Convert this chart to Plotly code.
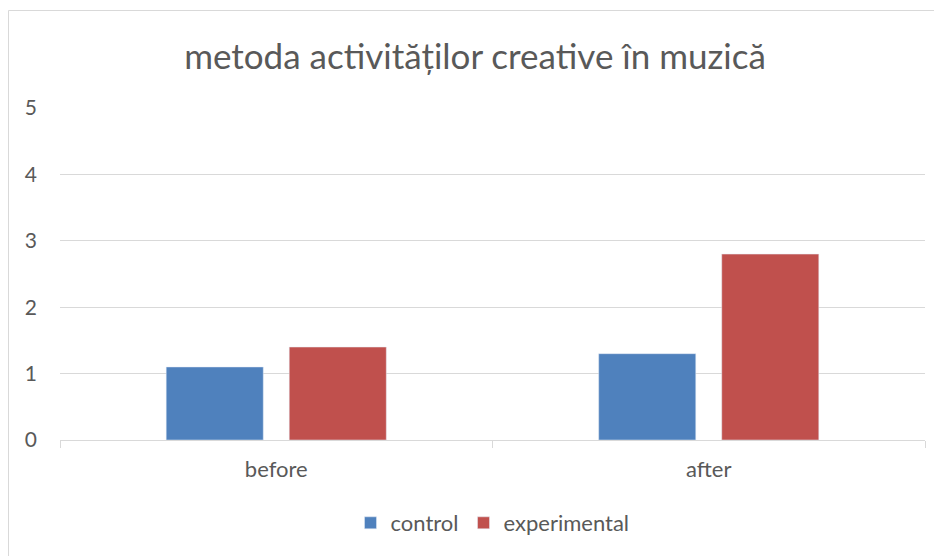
import plotly.graph_objects as go

categories = ["before", "after"]
control = [1.1, 1.3]
experimental = [1.4, 2.8]
y_ticks = [0, 1, 2, 3, 4, 5]

FONT = "Lato"
TXT = "#595959"

W, H = 934, 548
L, R, T, B = 52, 17, 100, 116
PH = H - T - B  # 332

fig = go.Figure()
fig.add_trace(go.Bar(name="control", x=categories, y=control, marker_color="#4F81BD"))
fig.add_trace(go.Bar(name="experimental", x=categories, y=experimental, marker_color="#C0504D"))

fig.update_layout(
    width=W, height=H,
    margin=dict(l=L, r=R, t=T, b=B),
    paper_bgcolor="white", plot_bgcolor="white",
    barmode="group", bargap=0.431, bargroupgap=0.211,
    title=dict(text="metoda activităților creative în muzică", x=0.5, xanchor="center",
               y=1 - 49/H, yanchor="middle", font=dict(family=FONT, size=35, color=TXT)),
    font=dict(family=FONT, size=21, color=TXT),
    legend=dict(orientation="h", x=0.5, xanchor="center", y=(H - B - 515)/PH, yanchor="middle",
                font=dict(size=22, color=TXT), itemwidth=30, traceorder="normal"),
    xaxis=dict(showgrid=False, showline=True, linecolor="#D9D9D9", linewidth=1,
               ticks="outside", tickson="boundaries", ticklen=7, tickcolor="#D9D9D9",
               ticklabelstandoff=10, tickfont=dict(size=22, color=TXT)),
    yaxis=dict(range=[0, 5], tickvals=y_ticks, showgrid=True, gridcolor="#D9D9D9",
               zeroline=False, showline=False, ticks="", ticklabelstandoff=22,
               tickfont=dict(size=21, color=TXT)),
    shapes=[dict(type="rect", xref="paper", yref="paper",
                 x0=(0.5 - L)/(W - L - R), x1=1.2, y0=-0.6, y1=(H - B - 2.5)/PH,
                 line=dict(color="#D9D9D9", width=1), fillcolor="rgba(0,0,0,0)", layer="below")],
)

fig.write_html("out.html")
